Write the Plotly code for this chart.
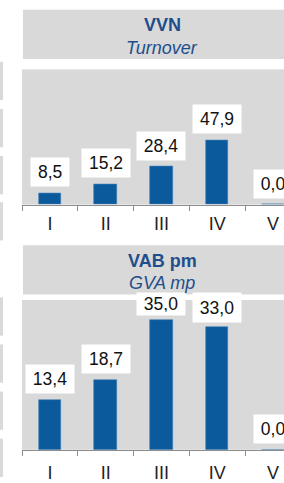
import plotly.graph_objects as go

# ---- data ----
categories = ["I", "II", "III", "IV", "V"]
vvn_values = [8.5, 15.2, 28.4, 47.9, 0.0]
vab_values = [13.4, 18.7, 35.0, 33.0, 0.0]
titles_top = ["VVN", "Turnover"]
titles_bottom = ["VAB pm", "GVA mp"]

W, H = 284, 483
BAR = "#0b5a9c"
GRAY = "#d9d9d9"
TITLE_C = "#1f4e8c"
FONT = "Liberation Sans, Arial, sans-serif"
VAL_FS = 17.5


def py(px):
    return 1 - px / H


def fmt(v):
    return f"{v:.1f}".replace(".", ",")


def text_w(s, fs):
    w = 0
    for ch in s:
        w += 0.278 if ch in ",." else 0.556
    return w * fs


panels = [
    dict(vals=vvn_values, titles=titles_top, top=70.7, base=208.5, ymax=101, title_top=10, standoff=3),
    dict(vals=vab_values, titles=titles_bottom, top=305.7, base=458.3, ymax=40.3, title_top=250, standoff=7),
]

fig = go.Figure()
layout = dict(
    width=W, height=H, margin=dict(l=0, r=0, t=0, b=0),
    paper_bgcolor="white", plot_bgcolor=GRAY, showlegend=False, bargap=0,
)
x_dom = [22 / W, 1]
x_range = [-0.5, -0.5 + 262 / 55.75]

annotations = []
shapes = []
for i, p in enumerate(panels):
    sfx = "" if i == 0 else str(i + 1)
    xa, ya = "x" + sfx, "y" + sfx
    fig.add_trace(go.Bar(x=categories, y=p["vals"], width=0.4, xaxis=xa, yaxis=ya, hoverinfo="skip",
                         marker=dict(color=BAR, line=dict(color="#3f7fb8", width=0.6))))
    layout["xaxis" + sfx] = dict(
        anchor=ya, type="category", range=x_range, domain=x_dom, showline=True, linecolor="#8c8c8c",
        linewidth=1, ticks="outside", tickson="boundaries", ticklen=5, tickcolor="#8c8c8c", tickwidth=1,
        ticklabelstandoff=p["standoff"], tickfont=dict(family=FONT, size=18, color="#222222"),
        showgrid=False, zeroline=False, fixedrange=True,
    )
    layout["yaxis" + sfx] = dict(domain=[py(p["base"]), py(p["top"])], range=[0, p["ymax"]],
                                 visible=False, fixedrange=True)
    pxu = (p["base"] - p["top"]) / p["ymax"]
    box_h = 28
    min_top = p["title_top"] + 50
    for c, v in zip(categories, p["vals"]):
        s = fmt(v)
        bar_top = p["base"] - v * pxu
        shift = 6
        h = box_h
        if bar_top - shift - box_h < min_top:
            shift = 4
            h = bar_top - shift - min_top
        annotations.append(dict(
            x=c, y=v, xref=xa, yref=ya, text=s, showarrow=False, xanchor="center", yanchor="bottom",
            yshift=shift, bgcolor="white", borderpad=3, width=text_w(s, VAL_FS) + 8,
            height=h - 6, valign="middle",
            font=dict(family=FONT, size=VAL_FS, color="#111111"),
        ))

    # title box and texts
    t = p["title_top"]
    shapes.append(dict(type="rect", xref="paper", yref="paper", x0=23 / W, x1=1.05,
                       y0=py(t + 50), y1=py(t), fillcolor=GRAY, line=dict(width=0), layer="below"))
    t1, t2 = p["titles"]
    annotations.append(dict(
        x=162 / W, y=py(t + 15.5), xref="paper", yref="paper", xanchor="center", yanchor="middle",
        text=f"<b>{t1}</b>", showarrow=False, font=dict(family=FONT, size=18, color=TITLE_C),
    ))
    annotations.append(dict(
        x=162 / W, y=py(t + 38.5), xref="paper", yref="paper", xanchor="center", yanchor="middle",
        text=f"<i>{t2}</i>", showarrow=False, font=dict(family=FONT, size=18, color=TITLE_C),
    ))

# cut-off neighbour panel strips on the left edge
for y0 in (63, 111, 159, 206, 303, 351, 399, 447):
    shapes.append(dict(type="rect", xref="paper", yref="paper", x0=0, x1=3 / W, y0=py(y0 + 39), y1=py(y0),
                       fillcolor=GRAY, line=dict(width=0), layer="below"))

layout["annotations"] = annotations
layout["shapes"] = shapes
fig.update_layout(**layout)

fig.write_html(
    "out.html",
    config={"displayModeBar": False},
    post_script="document.body.style.margin='0';document.body.style.overflow='hidden';",
)
